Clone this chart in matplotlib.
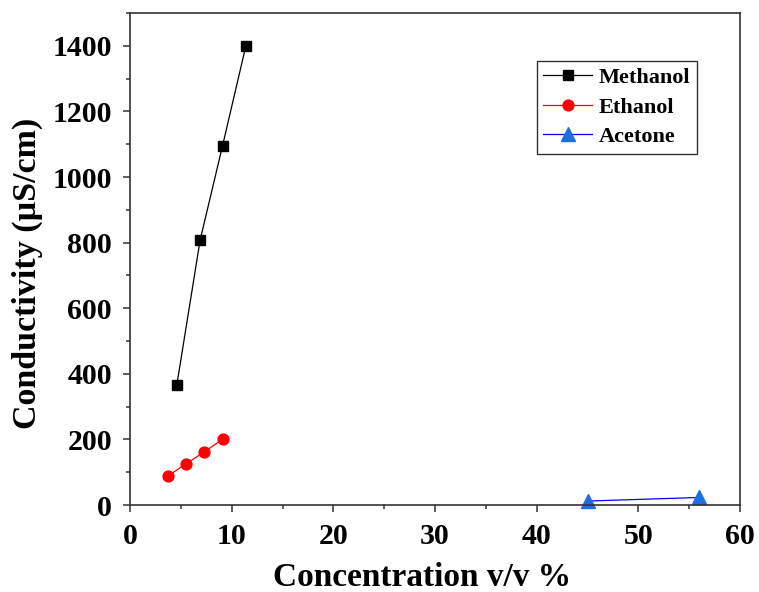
import matplotlib
matplotlib.use("Agg")
import matplotlib.pyplot as plt
from matplotlib.ticker import MultipleLocator

plt.rcParams['font.family'] = ['Liberation Serif', 'DejaVu Serif']
plt.rcParams['font.weight'] = 'bold'

methanol_x = [4.6, 6.9, 9.1, 11.4]
methanol_y = [365, 808, 1095, 1400]
ethanol_x = [3.7, 5.5, 7.3, 9.1]
ethanol_y = [88, 125, 162, 200]
acetone_x = [45.0, 56.0]
acetone_y = [12, 23]

fig = plt.figure(figsize=(7.59, 5.92), dpi=100)
ax = fig.add_axes([130/759, 1-505/592, 610/759, 492/592])

ax.plot(methanol_x, methanol_y, color='black', lw=0.9, marker='s', ms=7.8,
        mfc='black', mec='black', label='Methanol', clip_on=False)
ax.plot(ethanol_x, ethanol_y, color='red', lw=0.9, marker='o', ms=7.8,
        mfc='red', mec='red', label='Ethanol', clip_on=False)
ax.plot(acetone_x, acetone_y, color='blue', lw=0.9, marker='^', ms=9.5,
        mfc='#1e6ee0', mec='#1e6ee0', label='Acetone', clip_on=False)

ax.set_xlim(0, 60)
ax.set_ylim(0, 1500)
ax.xaxis.set_major_locator(MultipleLocator(10))
ax.xaxis.set_minor_locator(MultipleLocator(5))
ax.yaxis.set_major_locator(MultipleLocator(200))
ax.yaxis.set_minor_locator(MultipleLocator(100))

for s in ax.spines.values():
    s.set_color('#333333')
    s.set_linewidth(1.2)
ax.tick_params(which='major', direction='out', length=5, width=1.1, color='#333333',
               labelsize=21.5, pad=8)
ax.tick_params(which='minor', direction='out', length=3, width=1.1, color='#333333')
for lab in ax.get_xticklabels() + ax.get_yticklabels():
    lab.set_fontweight('bold')

ax.set_xlabel('Concentration v/v %', fontsize=24, fontweight='bold')
ax.set_ylabel('Conductivity (µS/cm)', fontsize=24.5, fontweight='bold')
ax.xaxis.set_label_coords(0.4787, -0.116)
ax.yaxis.set_label_coords(-0.1426, 0.4715)

leg = ax.legend(loc='upper right', bbox_to_anchor=(697/759, 1-61/592),
                bbox_transform=fig.transFigure, borderaxespad=0,
                fancybox=False, framealpha=1,
                edgecolor='#333333', prop={'size': 16, 'weight': 'bold'},
                handlelength=2.2, handletextpad=0.3, labelspacing=0.4,
                borderpad=0.3)
leg.get_frame().set_linewidth(1.0)

fig.savefig('out.png', dpi=100)
